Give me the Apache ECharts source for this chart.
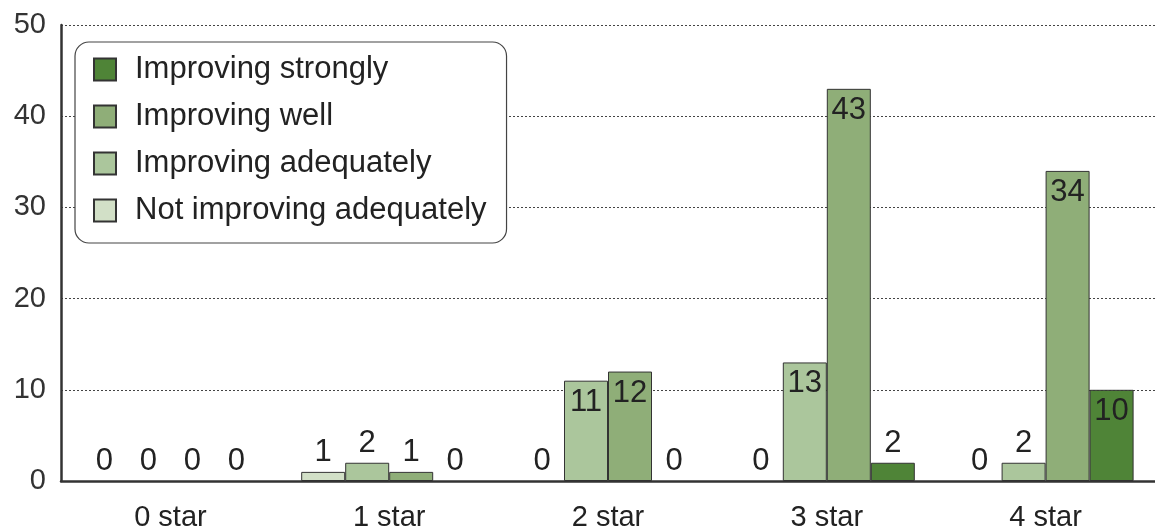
<!DOCTYPE html>
<html>
<head>
<meta charset="utf-8">
<script src="https://cdn.jsdelivr.net/npm/echarts@6/dist/echarts.min.js"></script>
<style>
html,body{margin:0;padding:0;background:#fff;}
#chart{width:1155px;height:532px;}
</style>
</head>
<body>
<div id="chart"></div>
<script>
var categories = ['0 star', '1 star', '2 star', '3 star', '4 star'];
var seriesNames = ['Not improving adequately', 'Improving adequately', 'Improving well', 'Improving strongly'];
var notImprovingAdequately = [0, 1, 0, 0, 0];
var improvingAdequately = [0, 2, 11, 13, 2];
var improvingWell = [0, 1, 12, 43, 34];
var improvingStrongly = [0, 0, 0, 2, 10];
var seriesColors = ['#d2e0c7', '#abc69c', '#8fae78', '#4f8437'];
var legendOrder = ['Improving strongly', 'Improving well', 'Improving adequately', 'Not improving adequately'];
var yTicks = [0, 10, 20, 30, 40, 50];

var allValues = [notImprovingAdequately, improvingAdequately, improvingWell, improvingStrongly];

function buildData(arr) {
  return arr.map(function (v) {
    var inside = v >= 10;
    var item = {
      value: v,
      label: {
        position: inside ? 'insideTop' : 'top',
        distance: inside ? 6 : 4
      }
    };
    if (v === 0) {
      item.itemStyle = { borderWidth: 0 };
    }
    return item;
  });
}

var series = seriesNames.map(function (name, i) {
  return {
    name: name,
    type: 'bar',
    barWidth: 44,
    barGap: '0%',
    data: buildData(allValues[i]),
    itemStyle: { color: seriesColors[i], borderColor: '#333', borderWidth: 1 },
    label: {
      show: true,
      fontFamily: '"Liberation Sans Narrow", "Liberation Sans", sans-serif',
      fontSize: 31,
      color: '#222'
    },
    emphasis: { disabled: true },
    animation: false
  };
});

var chart = echarts.init(document.getElementById('chart'), null, { renderer: 'canvas' });
chart.setOption({
  animation: false,
  backgroundColor: '#fff',
  textStyle: { fontFamily: '"Liberation Sans", Arial, sans-serif' },
  grid: { left: 61, right: -9, top: 25, bottom: 51, containLabel: false },
  legend: {
    data: legendOrder,
    orient: 'vertical',
    left: 75,
    top: 42,
    padding: [12, 20, 17, 18],
    itemWidth: 22,
    itemHeight: 22,
    itemGap: 16,
    icon: 'rect',
    borderColor: '#444',
    borderWidth: 1.2,
    borderRadius: 14,
    backgroundColor: '#fff',
    selectedMode: false,
    textStyle: { fontSize: 31, color: '#222', padding: [0, 0, 0, 14], fontFamily: '"Liberation Sans", Arial, sans-serif' }
  },
  xAxis: {
    type: 'category',
    data: categories,
    axisLine: { show: true, lineStyle: { color: '#333', width: 2.5 } },
    axisTick: { show: false },
    axisLabel: { fontSize: 29, color: '#222', margin: 22, fontFamily: '"Liberation Sans", Arial, sans-serif' },
    z: 5
  },
  yAxis: {
    type: 'value',
    min: yTicks[0],
    max: yTicks[yTicks.length - 1],
    interval: yTicks[1] - yTicks[0],
    axisLine: { show: true, lineStyle: { color: '#333', width: 2.5 } },
    axisTick: { show: false },
    axisLabel: { fontSize: 29, color: '#333', margin: 15, fontFamily: '"Liberation Sans", Arial, sans-serif' },
    splitLine: { show: true, lineStyle: { color: '#444', width: 1, type: [2, 2] } }
  },
  series: series
});
</script>
</body>
</html>
